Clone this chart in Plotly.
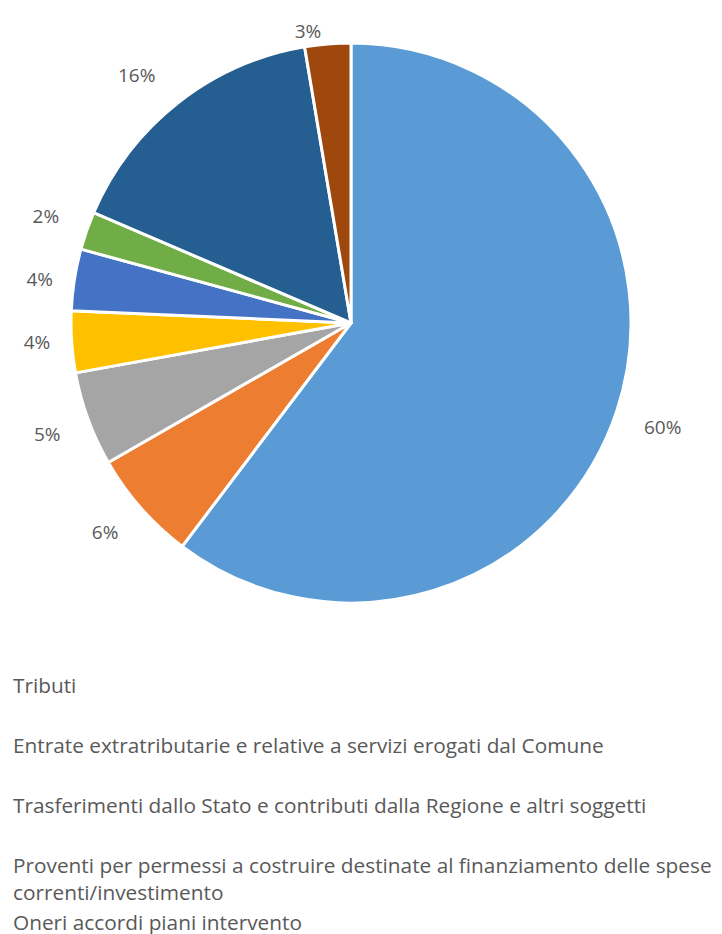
import math
import plotly.graph_objects as go

# ---- data ----
categories = [
    "Tributi",
    "Entrate extratributarie e relative a servizi erogati dal Comune",
    "Trasferimenti dallo Stato e contributi dalla Regione e altri soggetti",
    "Proventi per permessi a costruire destinate al finanziamento delle spese<br>correnti/investimento",
    "Oneri accordi piani intervento",
    "Alienazioni di beni",
    "Avanzo di amministrazione",
    "Accensione di prestiti",
]
values = [60.3, 6.4, 5.45, 3.55, 3.55, 2.2, 15.9, 2.65]
colors = ["#5B9BD5", "#ED7D31", "#A5A5A5", "#FFC000", "#4472C4", "#70AD47", "#255E91", "#9E480E"]

FONT = "Open Sans"
TXT = "#595959"
W, H = 714, 926          # page body adds an 8px margin
cx, cy, r = 343, 315, 280

# label templates: push labels a bit away from the rim along the slice's mid-ray
total = sum(values)
templates = []
cum = 0.0
for v in values:
    mid = (cum + v / 2) / total * 2 * math.pi
    cum += v
    s, c = abs(math.sin(mid)), math.cos(mid)
    extra_line = 0.2 < abs(c) < 0.95
    pad = "\u00a0" * int(round(3 * s))
    t = pad + "%{percent:.0%}" + pad
    if extra_line:
        t = (t + "<br> ") if c > 0 else (" <br>" + t)
    templates.append(t)

fig = go.Figure()
fig.add_trace(go.Pie(
    labels=categories, values=values, sort=False, direction="clockwise", rotation=0,
    marker=dict(colors=colors, line=dict(color="white", width=3)),
    textposition="outside",
    texttemplate=templates,
    textfont=dict(family=FONT, size=19, color=TXT),
    domain=dict(x=[(cx - r) / W, (cx + r) / W], y=[1 - (cy + r) / H, 1 - (cy - r) / H]),
    showlegend=False, hoverinfo="label+percent",
))

# legend entries (one per category, same colours)
groups = ["g1", "g2", "g3", "g4", "g4", "g6", "g7", "g8"]
for name, col, grp in zip(categories, colors, groups):
    fig.add_trace(go.Scatter(
        x=[None], y=[None], mode="markers", name=name, legendgroup=grp,
        marker=dict(symbol="square", size=5, color=col), showlegend=True, hoverinfo="skip",
    ))

LF = 20.8
lh = 1.3 * LF
fig.update_layout(
    width=W, height=H,
    margin=dict(l=0, r=0, t=0, b=0, autoexpand=False),
    paper_bgcolor="white", plot_bgcolor="white",
    xaxis=dict(visible=False), yaxis=dict(visible=False),
    legend=dict(
        x=-35 / W, xanchor="left", y=1 - (677 - (lh + 3) / 2 - 5) / H, yanchor="top",
        font=dict(family=FONT, size=LF, color=TXT),
        tracegroupgap=60 - (lh + 3), itemsizing="trace", valign="top",
        bgcolor="rgba(0,0,0,0)",
    ),
)
fig.write_html("out.html")
